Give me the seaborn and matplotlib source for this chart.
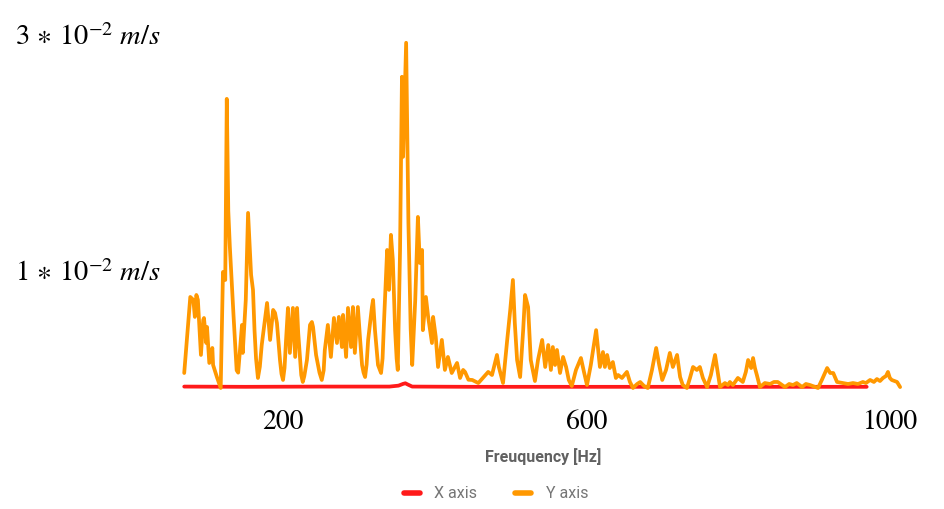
import numpy as np
import pandas as pd
import matplotlib
matplotlib.use("Agg")
import matplotlib.pyplot as plt
from matplotlib.lines import Line2D
import seaborn as sns

# Vibration velocity spectrum (values in units of 1e-2 m/s)
freq_y = [70, 78, 82, 84, 86, 88, 90, 92, 95, 96, 99, 100, 103, 107, 108, 113, 118,
          121, 124, 126, 128, 130, 135, 139, 141, 146, 147, 151, 154, 158, 160.5, 162.5,
          164.5, 167, 169.5, 172, 179, 183, 187, 189.5, 192, 196, 198, 200, 202, 204,
          206.5, 209, 213, 216, 218.5, 220, 222.5, 224, 226, 228, 231.5, 235.5, 238,
          239.5, 243.5, 248, 251, 253.5, 255, 259, 263, 267, 271, 273.5, 277.5, 279, 283,
          285.5, 289.5, 292, 294.5, 298.5, 301.5, 304, 306, 308, 310, 312, 317, 318.5,
          321, 325, 327, 329, 331, 333, 337, 339.5, 342, 344.5, 347.5, 349.5, 351, 354,
          356.5, 358, 362, 365, 368, 370, 374, 377.5, 380, 383, 384, 388, 391, 396, 397.5,
          401, 404, 409, 413, 417, 422, 429, 433, 437, 439.5, 444, 449, 457, 463, 470,
          475, 481.5, 484, 489.5, 495, 499, 502.5, 505, 508, 512, 516, 518.5, 522.5, 526,
          531.5, 535.5, 541, 545, 549, 552.5, 555, 558, 560.5, 564.5, 568.5, 572.5, 576,
          580, 585.5, 592, 596, 600, 605, 612, 617, 621, 623.5, 626.5, 630, 634, 638, 641,
          646, 652.5, 656.5, 660.5, 666, 670, 675, 680, 685.5, 691, 695, 699, 704, 709,
          713, 718.5, 722.5, 726, 731.5, 735.5, 739.5, 744.5, 748.5, 752.5, 758, 763,
          768.5, 772.5, 775, 781.5, 785.5, 788, 792, 798.5, 805, 809, 812, 816, 818.5, 821,
          823.5, 827.5, 834, 841, 846, 851, 860.5, 866, 871, 876, 883, 888, 893.5, 904,
          909, 916, 920, 924, 929, 937, 943.5, 950, 956.5, 963, 967, 972.5, 977.5, 981.5,
          985.5, 989.5, 993.5, 996, 998.5, 1001, 1008, 1012]
vel_y = [0.127, 0.771, 0.746, 0.602, 0.788, 0.746, 0.517, 0.280, 0.576, 0.593, 0.381,
         0.517, 0.212, 0.339, 0.195, 0.093, 0.0, 0.983, 0.915, 2.449, 1.5, 1.2, 0.6, 0.15,
         0.13, 0.534, 0.297, 0.746, 1.483, 0.958, 0.831, 0.49, 0.25, 0.085, 0.18, 0.364,
         0.720, 0.407, 0.661, 0.636, 0.551, 0.237, 0.12, 0.068, 0.17, 0.407, 0.678, 0.297,
         0.678, 0.263, 0.678, 0.466, 0.237, 0.11, 0.051, 0.10, 0.237, 0.534, 0.559, 0.517,
         0.280, 0.13, 0.068, 0.15, 0.322, 0.534, 0.263, 0.593, 0.381, 0.602, 0.347, 0.619,
         0.263, 0.678, 0.347, 0.686, 0.297, 0.686, 0.407, 0.195, 0.13, 0.093, 0.2, 0.407,
         0.686, 0.746, 0.49, 0.195, 0.16, 0.127, 0.25, 0.576, 1.169, 0.831, 1.297, 1.085,
         0.49, 0.25, 0.153, 1.169, 2.636, 1.958, 2.924, 1.4, 0.5, 0.195, 0.746, 1.449,
         1.059, 1.169, 0.49, 0.771, 0.602, 0.381, 0.602, 0.432, 0.178, 0.407, 0.153,
         0.263, 0.127, 0.212, 0.085, 0.153, 0.136, 0.07, 0.068, 0.042, 0.085, 0.136,
         0.110, 0.280, 0.178, 0.042, 0.407, 0.661, 0.915, 0.551, 0.237, 0.093, 0.49,
         0.788, 0.686, 0.237, 0.059, 0.237, 0.407, 0.178, 0.364, 0.153, 0.347, 0.195,
         0.322, 0.127, 0.263, 0.178, 0.068, 0.017, 0.153, 0.254, 0.136, 0.025, 0.195,
         0.49, 0.178, 0.305, 0.178, 0.280, 0.169, 0.220, 0.085, 0.110, 0.085, 0.136,
         0.051, 0.0, 0.034, 0.051, 0.017, 0.0, 0.153, 0.339, 0.195, 0.068, 0.153, 0.297,
         0.178, 0.280, 0.093, 0.025, 0.0, 0.085, 0.178, 0.153, 0.178, 0.085, 0.008, 0.110,
         0.280, 0.110, 0.008, 0.042, 0.025, 0.051, 0.025, 0.085, 0.051, 0.136, 0.237,
         0.169, 0.254, 0.169, 0.110, 0.008, 0.042, 0.034, 0.051, 0.051, 0.008, 0.034,
         0.025, 0.042, 0.008, 0.034, 0.025, 0.0, 0.068, 0.169, 0.127, 0.127, 0.051, 0.042,
         0.034, 0.042, 0.034, 0.051, 0.042, 0.068, 0.051, 0.076, 0.059, 0.085, 0.102,
         0.136, 0.085, 0.068, 0.051, 0.008]

freq_x = [70, 150, 250, 340, 352, 358, 361, 364, 370, 450, 600, 800, 968]
vel_x = [0.012, 0.010, 0.012, 0.012, 0.02, 0.035, 0.04, 0.03, 0.012, 0.01, 0.01, 0.01, 0.01]

series_names = ["X axis", "Y axis"]
series_colors = {"X axis": "#ff1a1a", "Y axis": "#ff9800"}

x_ticks = [200, 600, 1000]
x_tick_labels = ["200", "600", "1000"]
y_ticks = [0.01, 0.03]
y_tick_labels = [r"$1\,\ast\,10^{-2}\ m/s$", r"$3\,\ast\,10^{-2}\ m/s$"]

df = pd.concat([
    pd.DataFrame({"Frequency": freq_x, "Velocity": np.array(vel_x) * 1e-2, "Axis": "X axis"}),
    pd.DataFrame({"Frequency": freq_y, "Velocity": np.array(vel_y) * 1e-2, "Axis": "Y axis"}),
], ignore_index=True)

sns.set_theme(style="white")
plt.rcParams["mathtext.fontset"] = "stix"

fig = plt.figure(figsize=(9.45, 5.09), dpi=100)
ax = fig.add_axes([183 / 945, 1 - 388 / 509, 720 / 945, 366 / 509])

sns.lineplot(data=df, x="Frequency", y="Velocity", hue="Axis", hue_order=series_names,
             palette=series_colors, linewidth=2.7, estimator=None, sort=False,
             legend=False, ax=ax)
for line in ax.get_lines():
    line.set_clip_on(False)
    line.set_solid_joinstyle("round")

ax.set_xlim(68.4, 1015.8)
ax.set_ylim(0, 0.031)
sns.despine(ax=ax, left=True, bottom=True)
ax.grid(False)

ax.set_xticks(x_ticks)
ax.set_xticklabels(x_tick_labels, fontfamily="STIXGeneral", fontsize=20, color="black")
ax.set_yticks(y_ticks)
ax.set_yticklabels(y_tick_labels, fontsize=20.5, color="black")
ax.tick_params(axis="x", length=0, pad=16)
ax.tick_params(axis="y", length=0, pad=16)

ax.set_ylabel("")
ax.set_xlabel("Freuquency [Hz]", fontfamily="Roboto", fontweight="bold", fontsize=11.5,
              color="#616161")
ax.xaxis.set_label_coords(0.5, -0.165)

handles = [Line2D([0], [0], color=series_colors[n], linewidth=4) for n in series_names]
fig.legend(handles, series_names, loc="center", bbox_to_anchor=(496 / 945, 1 - 494 / 509),
           ncol=2, frameon=False, handlelength=1.0, handletextpad=0.9, columnspacing=2.4,
           prop={"family": "Roboto", "size": 11.5}, labelcolor="#757575")

fig.savefig("out.png", dpi=100, facecolor="white")
